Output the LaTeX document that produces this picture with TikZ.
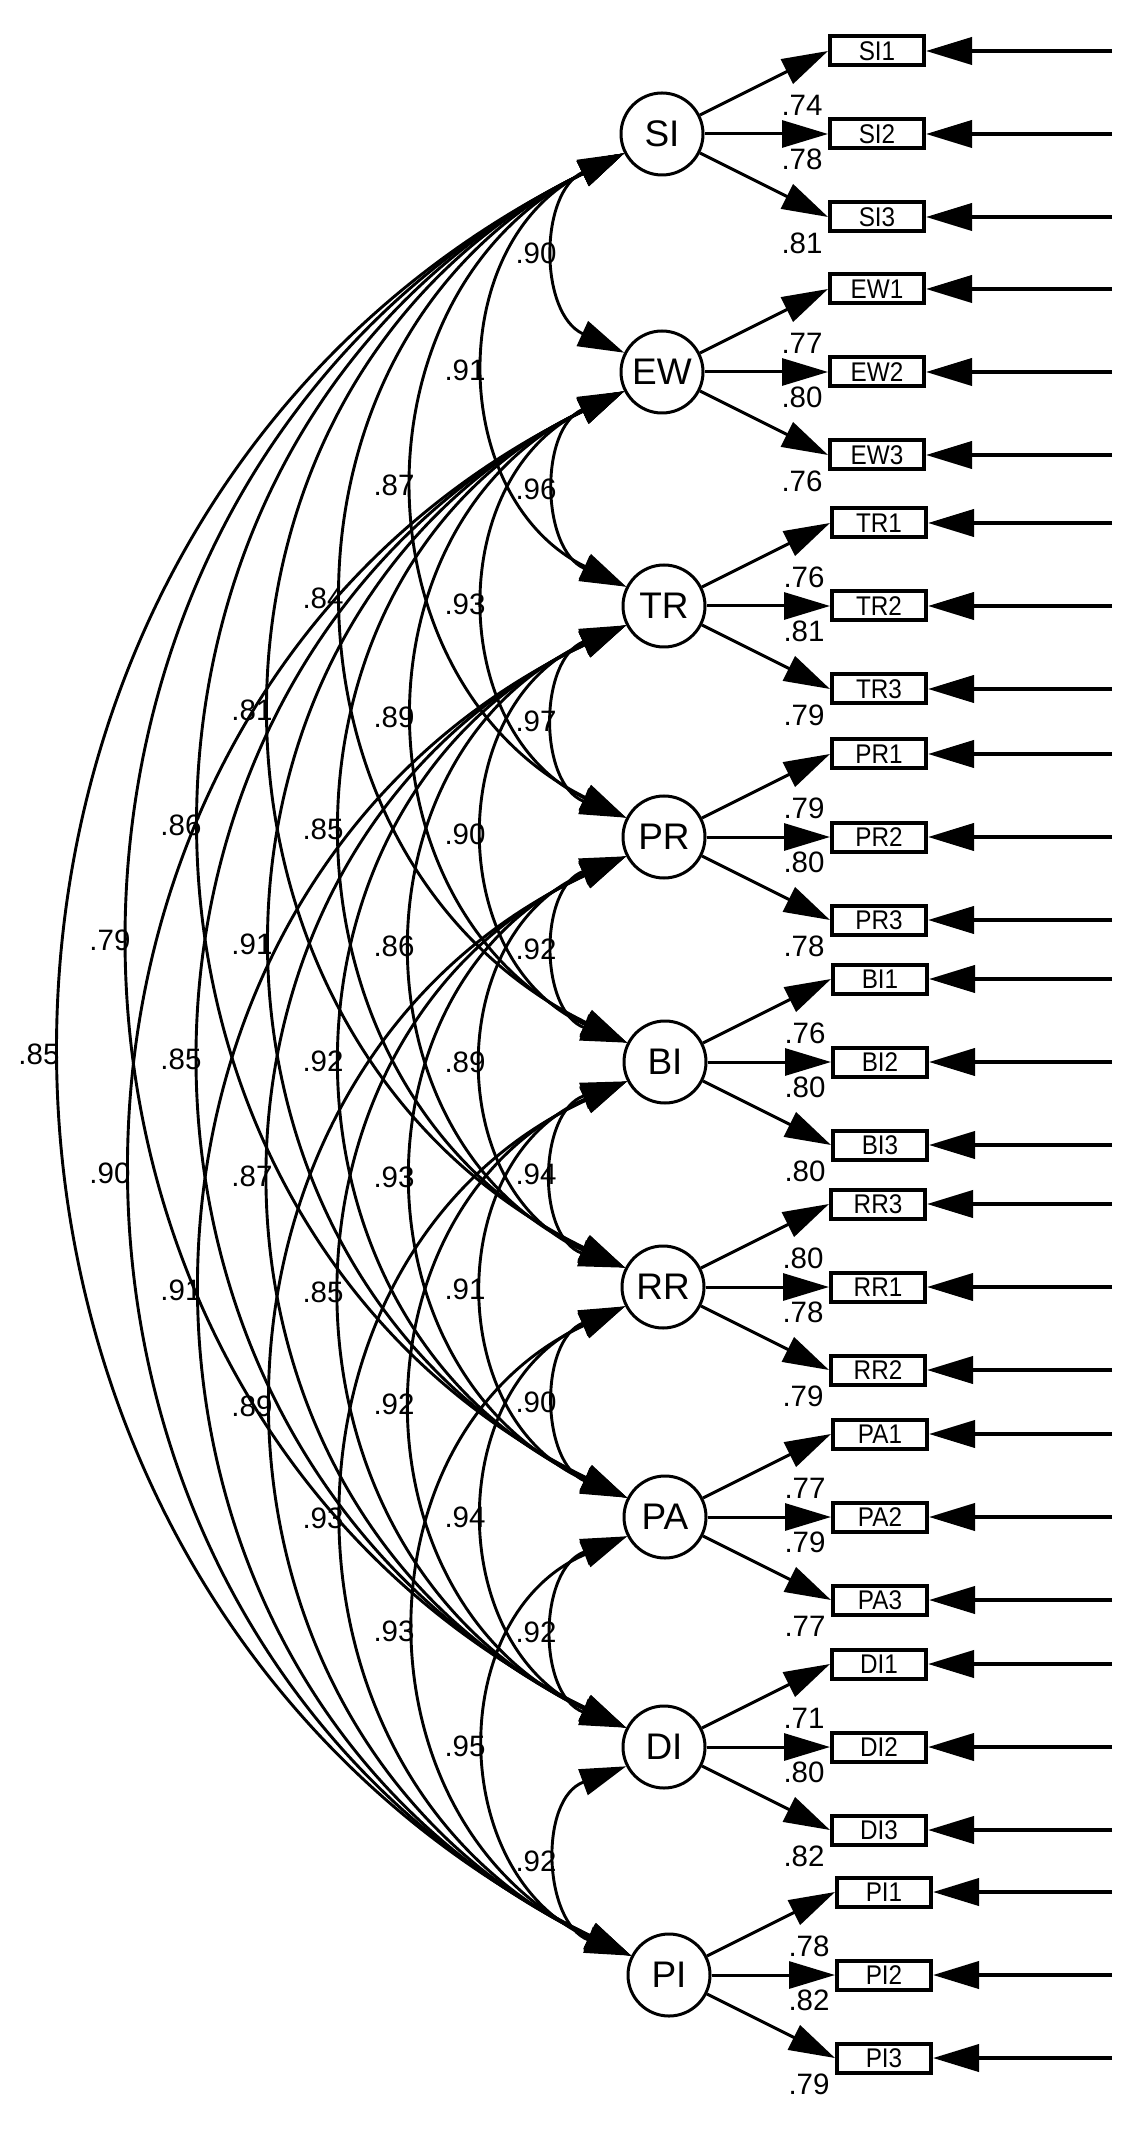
\documentclass[tikz,border=0pt]{standalone}
\usepackage{fontspec}
\setmainfont{Liberation Sans}
\newfontfamily\boxfont[FakeStretch=0.9]{Liberation Sans}
\usetikzlibrary{arrows.meta}
% latent positions (image pixel coordinates, y downwards); 1 px = 0.2pt
\def\xxSI{662}\def\yySI{134}
\def\xxEW{662}\def\yyEW{372}
\def\xxTR{664}\def\yyTR{606}
\def\xxPR{664}\def\yyPR{837}
\def\xxBI{665}\def\yyBI{1062}
\def\xxRR{663}\def\yyRR{1287}
\def\xxPA{665}\def\yyPA{1517}
\def\xxDI{664}\def\yyDI{1747}
\def\xxPI{669}\def\yyPI{1975}
% latent with three indicators
\newcommand\latgroup[7]{%
  \pgfmathsetmacro\gX{\csname xx#1\endcsname}
  \pgfmathsetmacro\gY{\csname yy#1\endcsname}
  \node[latent] (#1) at (\gX,-\gY) {#1};
  \node[ind] (#11) at (\gX+215,-\gY+83) {#2};
  \node[ind] (#12) at (\gX+215,-\gY) {#3};
  \node[ind] (#13) at (\gX+215,-\gY-83) {#4};
  \coordinate (e#11) at (1112,-\gY+83);
  \coordinate (e#12) at (1112,-\gY);
  \coordinate (e#13) at (1112,-\gY-83);
  \draw[err] (e#11) -- (#11.east);
  \draw[err] (e#12) -- (#12.east);
  \draw[err] (e#13) -- (#13.east);
  \draw[load] (#1) -- (#11.west);
  \draw[load] (#1) -- (#12.west);
  \draw[load] (#1) -- (#13.west);
  \node[lab] (l#11) at (\gX+140,-\gY+29) {#5};
  \node[lab] (l#12) at (\gX+140,-\gY-25) {#6};
  \node[lab] (l#13) at (\gX+140,-\gY-109) {#7};
}
% covariance arc between an upper and a lower latent, k = separation
\newcommand\covar[4]{%
  \pgfmathsetmacro\cvYa{\csname yy#1\endcsname}
  \pgfmathsetmacro\cvYb{\csname yy#2\endcsname}
  \pgfmathsetmacro\cvXa{\csname xx#1\endcsname}
  \pgfmathsetmacro\cvH{(\cvYb-\cvYa-38.6)/200}
  \pgfmathsetmacro\cvS{(\cvXa-38-(560-71*(#3-1)))/100}
  \pgfmathsetmacro\cvR{(\cvH*\cvH+\cvS*\cvS)/(2*\cvS)}
  \pgfmathsetmacro\cvT{atan2(\cvH,\cvR-\cvS)}
  \pgfmathsetmacro\cvD{4/3*\cvR*tan(\cvT/2)*20}
  \pgfmathsetmacro\cvO{270-\cvT}
  \pgfmathsetmacro\cvI{90+\cvT}
  \draw[cov] (#1.207) to[out=\cvO,in=\cvI,distance=\cvD pt] (#2.153);
  \pgfmathsetmacro\cvLx{536-71*(#3-1)}
  \pgfmathsetmacro\cvLy{-(\cvYa+\cvYb)/2}
  \node[lab] (c#1#2) at (\cvLx,\cvLy) {#4};
}
\begin{document}
\begin{tikzpicture}[x=0.2pt,y=0.2pt,
  >={Triangle[length=9.2pt,width=5.4pt]},
  latent/.style={circle,draw,line width=0.6pt,minimum size=16.4pt,inner sep=0pt,fill=white,
    font=\fontsize{7.4}{8}\selectfont},
  ind/.style={rectangle,draw,line width=0.8pt,minimum width=18.8pt,minimum height=5.8pt,inner sep=0pt,
    font=\boxfont\fontsize{5.4}{6}\selectfont},
  load/.style={->,line width=0.6pt},
  err/.style={->,line width=0.8pt},
  cov/.style={<->,line width=0.58pt},
  lab/.style={inner sep=0pt,font=\fontsize{5.9}{6.5}\selectfont},
]
\useasboundingbox (0,0) rectangle (1147,-2129);
\latgroup{SI}{SI1}{SI2}{SI3}{.74}{.78}{.81}
\latgroup{EW}{EW1}{EW2}{EW3}{.77}{.80}{.76}
\latgroup{TR}{TR1}{TR2}{TR3}{.76}{.81}{.79}
\latgroup{PR}{PR1}{PR2}{PR3}{.79}{.80}{.78}
\latgroup{BI}{BI1}{BI2}{BI3}{.76}{.80}{.80}
\latgroup{RR}{RR3}{RR1}{RR2}{.80}{.78}{.79}
\latgroup{PA}{PA1}{PA2}{PA3}{.77}{.79}{.77}
\latgroup{DI}{DI1}{DI2}{DI3}{.71}{.80}{.82}
\latgroup{PI}{PI1}{PI2}{PI3}{.78}{.82}{.79}
% k = 1
\covar{SI}{EW}{1}{.90}
\covar{EW}{TR}{1}{.96}
\covar{TR}{PR}{1}{.97}
\covar{PR}{BI}{1}{.92}
\covar{BI}{RR}{1}{.94}
\covar{RR}{PA}{1}{.90}
\covar{PA}{DI}{1}{.92}
\covar{DI}{PI}{1}{.92}
% k = 2
\covar{SI}{TR}{2}{.91}
\covar{EW}{PR}{2}{.93}
\covar{TR}{BI}{2}{.90}
\covar{PR}{RR}{2}{.89}
\covar{BI}{PA}{2}{.91}
\covar{RR}{DI}{2}{.94}
\covar{PA}{PI}{2}{.95}
% k = 3
\covar{SI}{PR}{3}{.87}
\covar{EW}{BI}{3}{.89}
\covar{TR}{RR}{3}{.86}
\covar{PR}{PA}{3}{.93}
\covar{BI}{DI}{3}{.92}
\covar{RR}{PI}{3}{.93}
% k = 4
\covar{SI}{BI}{4}{.84}
\covar{EW}{RR}{4}{.85}
\covar{TR}{PA}{4}{.92}
\covar{PR}{DI}{4}{.85}
\covar{BI}{PI}{4}{.93}
% k = 5
\covar{SI}{RR}{5}{.81}
\covar{EW}{PA}{5}{.91}
\covar{TR}{DI}{5}{.87}
\covar{PR}{PI}{5}{.89}
% k = 6
\covar{SI}{PA}{6}{.86}
\covar{EW}{DI}{6}{.85}
\covar{TR}{PI}{6}{.91}
% k = 7
\covar{SI}{DI}{7}{.79}
\covar{EW}{PI}{7}{.90}
% k = 8
\covar{SI}{PI}{8}{.85}
\end{tikzpicture}
\end{document}
